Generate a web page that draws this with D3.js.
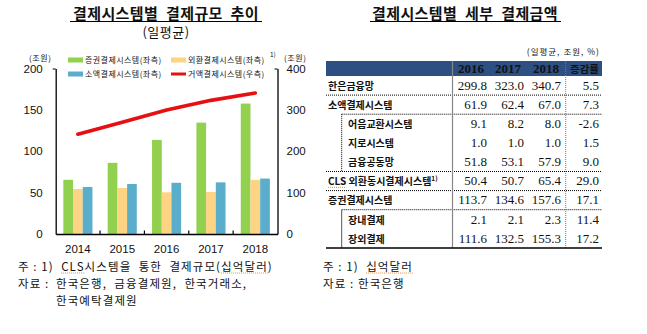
<!DOCTYPE html>
<html>
<head>
<meta charset="utf-8">
<script src="https://cdn.jsdelivr.net/npm/d3@7"></script>
<style>
  html, body { margin: 0; padding: 0; background: #fff; }
  svg { display: block; }
  text { font-family: "Noto Sans CJK KR", "Liberation Sans", sans-serif; fill: #111; white-space: pre; }
</style>
</head>
<body>
<svg id="root" width="647" height="334"></svg>
<script>
// ---- chart data (일평균, 조원 / 거액: 조원) ----
const years = ["2014", "2015", "2016", "2017", "2018"];
const securities = [65.5, 86.0, 113.7, 134.6, 157.6];   // 증권결제시스템(좌측)
const fxCLS = [54.3, 55.6, 50.4, 50.7, 65.4];           // 외환결제시스템(좌측)
const retail = [56.8, 60.4, 61.9, 62.4, 67.0];          // 소액결제시스템(좌측)
const largeValue = [241, 270, 299.8, 323.0, 340.7];     // 거액결제시스템(우측)
const leftTicks = [0, 50, 100, 150, 200];
const rightTicks = [0, 100, 200, 300, 400];

// ---- table data ----
const tableCols = ["2016", "2017", "2018", "증감률"];
const rowLabels = ["한은금융망", "소액결제시스템", "어음교환시스템", "지로시스템", "금융공동망",
  "CLS 외환동시결제시스템", "증권결제시스템", "장내결제", "장외결제"];
const rowIndent = [0, 0, 1, 1, 1, 0, 0, 1, 1];
const col2016 = ["299.8", "61.9", "9.1", "1.0", "51.8", "50.4", "113.7", "2.1", "111.6"];
const col2017 = ["323.0", "62.4", "8.2", "1.0", "53.1", "50.7", "134.6", "2.1", "132.5"];
const col2018 = ["340.7", "67.0", "8.0", "1.0", "57.9", "65.4", "157.6", "2.3", "155.3"];
const colGrowth = ["5.5", "7.3", "-2.6", "1.5", "9.0", "29.0", "17.1", "11.4", "17.2"];

const svg = d3.select("#root");

// dotted proofing-style underline below a tspan
function squiggle(tspanSel) {
  const b = tspanSel.node().getBBox();
  svg.append("line").attr("x1", b.x).attr("x2", b.x + b.width)
    .attr("y1", b.y + b.height - 1).attr("y2", b.y + b.height - 1)
    .attr("stroke", "#d9822b").attr("stroke-width", 0.9).attr("stroke-dasharray", "1,1");
}

// ================= left: chart =================
const C = { left: 55.7, right: 277.5, top: 68.5, bottom: 234 };
const x = d3.scaleBand().domain(years).range([C.left, C.right]);
const yL = d3.scaleLinear().domain([0, 200]).range([C.bottom, C.top]);
const yR = d3.scaleLinear().domain([0, 400]).range([C.bottom, C.top]);
const series = [
  { key: "증권결제시스템(좌측)", vals: securities, color: "#92d050" },
  { key: "외환결제시스템(좌측)", vals: fxCLS, color: "#fdd384" },
  { key: "소액결제시스템(좌측)", vals: retail, color: "#5aaecb" }
];
const barW = 9.7;
const g = svg.append("g");

series.forEach((s, si) => {
  g.selectAll(null).data(years).enter().append("rect")
    .attr("x", (d) => x(d) + x.bandwidth() / 2 - 1.5 * barW + si * barW)
    .attr("width", barW)
    .attr("y", (d, i) => yL(s.vals[i]))
    .attr("height", (d, i) => C.bottom - yL(s.vals[i]))
    .attr("fill", s.color);
});

// red line on right axis
const line = d3.line()
  .x((d, i) => x(years[i]) + x.bandwidth() / 2)
  .y((d) => yR(d));
g.append("path").datum(largeValue)
  .attr("d", line)
  .attr("fill", "none")
  .attr("stroke", "#e60f12")
  .attr("stroke-width", 3.6)
  .attr("stroke-linecap", "round");

// axes
const axL = d3.axisLeft(yL).tickValues(leftTicks).tickSize(0).tickPadding(13);
const axR = d3.axisRight(yR).tickValues(rightTicks).tickSize(0).tickPadding(9);
const axB = d3.axisBottom(x).tickSize(0).tickPadding(11);
function styleAxis(sel) {
  sel.selectAll("path.domain").attr("stroke", "#000").attr("stroke-width", 1.3);
  sel.selectAll("text").style("font-family", "'Liberation Sans', Arial, sans-serif")
    .style("font-size", "11.5px").attr("fill", "#111");
}
g.append("g").attr("transform", `translate(${C.left},0)`).call(axL).call(styleAxis);
g.append("g").attr("transform", `translate(${C.right},0)`).call(axR).call(styleAxis);
g.append("g").attr("transform", `translate(0,${C.bottom})`).call(axB).call(styleAxis);
// tick marks between categories
const bounds = years.slice(1).map((d) => x(d));
g.selectAll(null).data(bounds).enter().append("line")
  .attr("x1", (d) => d).attr("x2", (d) => d)
  .attr("y1", C.bottom).attr("y2", C.bottom - 3.5)
  .attr("stroke", "#000").attr("stroke-width", 1.2);
g.append("line").attr("x1", C.left - 3).attr("x2", C.left).attr("y1", C.top + 0.5).attr("y2", C.top + 0.5).attr("stroke", "#000");
g.append("line").attr("x1", C.right - 3).attr("x2", C.right).attr("y1", C.top + 0.5).attr("y2", C.top + 0.5).attr("stroke", "#000");

// units
g.append("text").attr("x", 29).attr("y", 61).style("font-size", "8px").style("letter-spacing", "0.6px").text("(조원)");
g.append("text").attr("x", 284).attr("y", 61).style("font-size", "8px").style("letter-spacing", "0.6px").text("(조원)");

// legend
const legend = [
  { key: series[0].key, color: series[0].color, type: "bar", lx: 68, ly: 60 },
  { key: series[1].key, color: series[1].color, type: "bar", lx: 171, ly: 60 },
  { key: series[2].key, color: series[2].color, type: "bar", lx: 68, ly: 74 },
  { key: "거액결제시스템(우측)", color: "#e60f12", type: "line", lx: 171, ly: 74 }
];
legend.forEach((l) => {
  if (l.type === "bar") {
    g.append("rect").attr("x", l.lx).attr("y", l.ly - 2.5).attr("width", 15).attr("height", 5).attr("fill", l.color);
  } else {
    g.append("line").attr("x1", l.lx).attr("x2", l.lx + 15).attr("y1", l.ly).attr("y2", l.ly)
      .attr("stroke", l.color).attr("stroke-width", 3);
  }
  g.append("text").attr("x", l.lx + 17).attr("y", l.ly + 3).style("font-size", "8px")
    .style("letter-spacing", "0.45px").attr("fill", "#222").text(l.key);
});
g.append("text").attr("x", 270).attr("y", 57).style("font-size", "6.5px").text("1)");

// title
svg.append("text").attr("x", 166).attr("y", 19).attr("text-anchor", "middle")
  .style("font-size", "15px").style("font-weight", "bold").style("letter-spacing", "0.4px").style("word-spacing", "4px")
  .text("결제시스템별 결제규모 추이");
svg.append("line").attr("x1", 70).attr("x2", 262).attr("y1", 21.5).attr("y2", 21.5).attr("stroke", "#000").attr("stroke-width", 1);
svg.append("text").attr("x", 166).attr("y", 37).attr("text-anchor", "middle").style("font-size", "13px").style("letter-spacing", "0.5px").text("(일평균)");

// notes
const noteL = svg.append("g").style("font-size", "11.5px").style("letter-spacing", "1.1px");
const n1 = noteL.append("text").attr("x", 18).attr("y", 271);
n1.append("tspan").text("주 : 1)  ");
const clsSpan = n1.append("tspan").text("CLS");
n1.append("tspan").text("시스템을  통한  결제규모(");
const bnSpan = n1.append("tspan").text("십억달러");
n1.append("tspan").text(")");
squiggle(clsSpan);
squiggle(bnSpan);
noteL.append("text").attr("x", 18).attr("y", 288).text("자료 :");
noteL.append("text").attr("x", 56).attr("y", 288).text("한국은행,  금융결제원,  한국거래소,");
noteL.append("text").attr("x", 56).attr("y", 305).text("한국예탁결제원");

// ================= right: table =================
const T = { left: 326, right: 602, headTop: 61, headBottom: 76, rowH: 19.1, labelEnd: 452.5, growthSep: 565.7, subIndent: 341.7 };
svg.append("text").attr("x", 465).attr("y", 19).attr("text-anchor", "middle")
  .style("font-size", "15px").style("font-weight", "bold").style("letter-spacing", "0.4px").style("word-spacing", "4px")
  .text("결제시스템별 세부 결제금액");
svg.append("line").attr("x1", 370).attr("x2", 561).attr("y1", 21.5).attr("y2", 21.5).attr("stroke", "#000").attr("stroke-width", 1);
svg.append("text").attr("x", 600).attr("y", 55).attr("text-anchor", "end").style("font-size", "8.5px")
  .style("letter-spacing", "1px").text("(일평균, 조원, %)");

const colRight = [487, 524, 561, 599];
const headRight = [484, 521, 559, 599];
const tb = svg.append("g");
tb.append("rect").attr("x", T.left).attr("y", T.headTop).attr("width", T.right - T.left).attr("height", T.headBottom - T.headTop).attr("fill", "#2d4f82");
tableCols.forEach((c, i) => {
  tb.append("text").attr("x", headRight[i]).attr("y", T.headBottom - 3.5).attr("text-anchor", "end")
    .style("font-family", i < 3 ? "'Liberation Serif', serif" : "'Noto Sans CJK KR', sans-serif")
    .style("font-size", i < 3 ? "13px" : "10.5px").style("font-weight", "bold").attr("fill", "#fff").text(c);
});

const rowTop = (i) => T.headBottom + i * T.rowH;
const cols = [col2016, col2017, col2018, colGrowth];
rowLabels.forEach((lab, i) => {
  const yb = rowTop(i) + T.rowH / 2 + 4.3;
  const t = tb.append("text").attr("x", rowIndent[i] ? 348 : 328).attr("y", yb)
    .style("font-size", "10px").style("font-weight", "bold");
  if (lab.startsWith("CLS")) {
    const c = t.append("tspan").text("CLS");
    t.append("tspan").text(lab.slice(3));
    t.append("tspan").attr("dy", -4.5).style("font-size", "6.5px").text("1)");
    squiggle(c);
  } else {
    t.text(lab);
  }
  cols.forEach((col, j) => {
    tb.append("text").attr("x", colRight[j]).attr("y", yb).attr("text-anchor", "end")
      .style("font-family", "'Liberation Serif', serif").style("font-size", "13px").text(col[i]);
  });
});

// rules
const dotted = (x1, x2, y1, y2) => tb.append("line").attr("x1", x1).attr("x2", x2).attr("y1", y1).attr("y2", y2)
  .attr("stroke", "#000").attr("stroke-width", 1).attr("stroke-dasharray", "1,1");
dotted(T.left, T.right, rowTop(1), rowTop(1));
dotted(T.subIndent, T.right, rowTop(2), rowTop(2));
dotted(T.left, T.right, rowTop(5), rowTop(5));
dotted(T.left, T.right, rowTop(6), rowTop(6));
dotted(T.subIndent, T.right, rowTop(7), rowTop(7));
dotted(T.subIndent, T.subIndent, rowTop(2), rowTop(5));
tb.append("line").attr("x1", T.subIndent).attr("x2", T.subIndent).attr("y1", rowTop(7)).attr("y2", rowTop(9))
  .attr("stroke", "#555").attr("stroke-width", 1);
tb.append("line").attr("x1", T.labelEnd).attr("x2", T.labelEnd).attr("y1", T.headTop).attr("y2", rowTop(9))
  .attr("stroke", "#888").attr("stroke-width", 1.2);
tb.append("line").attr("x1", T.growthSep).attr("x2", T.growthSep).attr("y1", T.headTop).attr("y2", rowTop(9))
  .attr("stroke", "#777").attr("stroke-width", 1).attr("stroke-dasharray", "1,1");
tb.append("line").attr("x1", T.left).attr("x2", T.right).attr("y1", rowTop(9)).attr("y2", rowTop(9))
  .attr("stroke", "#000").attr("stroke-width", 1.5);

const noteR = svg.append("g").style("font-size", "11.5px").style("letter-spacing", "1.1px");
const r1 = noteR.append("text").attr("x", 323).attr("y", 271);
r1.append("tspan").text("주 : 1)  ");
const rb = r1.append("tspan").text("십억달러");
squiggle(rb);
noteR.append("text").attr("x", 323).attr("y", 288).text("자료 : 한국은행");
</script>
</body>
</html>
